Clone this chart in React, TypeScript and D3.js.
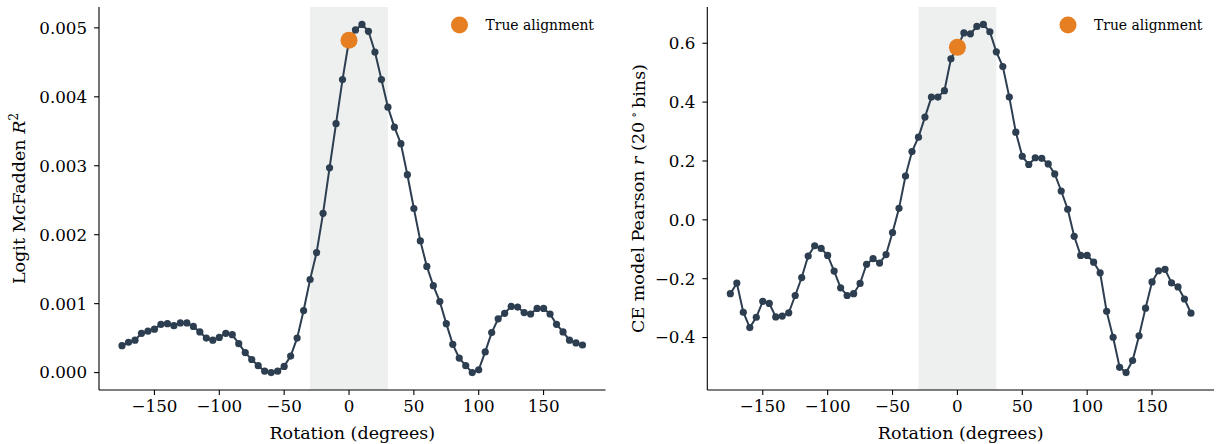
import React from "react";
import * as d3 from "d3";

// rotation grid (degrees)
const rotations = [
  -175, -170, -165, -160, -155, -150, -145, -140, -135, -130, -125, -120,
  -115, -110, -105, -100, -95, -90, -85, -80, -75, -70, -65, -60,
  -55, -50, -45, -40, -35, -30, -25, -20, -15, -10, -5, 0,
  5, 10, 15, 20, 25, 30, 35, 40, 45, 50, 55, 60,
  65, 70, 75, 80, 85, 90, 95, 100, 105, 110, 115, 120,
  125, 130, 135, 140, 145, 150, 155, 160, 165, 170, 175, 180,
];

// left panel: logit McFadden R^2
const logitR2 = [
  0.00039, 0.00044, 0.00047, 0.00057, 0.0006, 0.00063, 0.0007, 0.00071, 0.00068, 0.00072, 0.00072, 0.00067,
  0.00059, 0.0005, 0.00047, 0.00051, 0.00057, 0.00055, 0.00042, 0.00029, 0.00019, 0.0001, 0.00002, 0.0,
  0.00002, 0.00009, 0.00024, 0.0005, 0.0009, 0.00135, 0.00174, 0.00231, 0.00297, 0.00361, 0.00425, 0.00482,
  0.00497, 0.00505, 0.00495, 0.00465, 0.00425, 0.00385, 0.00356, 0.00332, 0.00287, 0.00238, 0.00191, 0.00154,
  0.00126, 0.00103, 0.00071, 0.00041, 0.00021, 0.0001, 0.0, 0.00004, 0.0003, 0.00058, 0.00078, 0.00086,
  0.00096, 0.00095, 0.00087, 0.00085, 0.00093, 0.00093, 0.00085, 0.0007, 0.00059, 0.00047, 0.00043, 0.0004,
];

// right panel: CE model Pearson r (20 deg bins)
const pearsonR = [
  -0.251, -0.215, -0.314, -0.366, -0.331, -0.277, -0.284, -0.33, -0.327, -0.316, -0.257, -0.196,
  -0.123, -0.088, -0.097, -0.121, -0.174, -0.231, -0.257, -0.251, -0.216, -0.151, -0.132, -0.147,
  -0.118, -0.043, 0.039, 0.149, 0.232, 0.281, 0.349, 0.417, 0.417, 0.439, 0.547, 0.586,
  0.635, 0.632, 0.657, 0.664, 0.639, 0.571, 0.521, 0.417, 0.298, 0.216, 0.188, 0.211,
  0.209, 0.19, 0.156, 0.098, 0.036, -0.056, -0.121, -0.121, -0.144, -0.18, -0.311, -0.399,
  -0.501, -0.519, -0.478, -0.394, -0.3, -0.211, -0.173, -0.168, -0.214, -0.228, -0.269, -0.317,
];

const xTicks = [-150, -100, -50, 0, 50, 100, 150];
const leftYTicks = [0, 0.001, 0.002, 0.003, 0.004, 0.005];
const rightYTicks = [-0.4, -0.2, 0, 0.2, 0.4, 0.6];
const shadeRange = [-30, 30];
const trueRotation = 0;
const legendLabel = "True alignment";

const FONT = "DejaVu Serif";
const LINE = "#2c3e50";
const ORANGE = "#e67e22";
const SHADE = "#eef0ef";

const pad = (ext) => {
  const m = (ext[1] - ext[0]) * 0.05;
  return [ext[0] - m, ext[1] + m];
};

function Panel({ x0, x1, values, yTicks, fmt, yLabel, yLabelX }) {
  const top = 7;
  const bottom = 390;
  const x = d3.scaleLinear().domain(pad(d3.extent(rotations))).range([x0, x1]);
  const y = d3.scaleLinear().domain(pad(d3.extent(values))).range([bottom, top]);
  const pts = rotations.map((r, i) => [r, values[i]]);
  const line = d3.line().x((d) => x(d[0])).y((d) => y(d[1]));
  const trueVal = values[rotations.indexOf(trueRotation)];
  const tickLen = 4.9;

  return (
    <g fontFamily={FONT}>
      <rect x={x(shadeRange[0])} y={top} width={x(shadeRange[1]) - x(shadeRange[0])} height={bottom - top} fill={SHADE} />
      <path d={line(pts)} fill="none" stroke={LINE} strokeWidth={2} />
      {pts.map((d, i) => (
        <circle key={i} cx={x(d[0])} cy={y(d[1])} r={3.6} fill={LINE} />
      ))}
      <circle cx={x(trueRotation)} cy={y(trueVal)} r={8.5} fill={ORANGE} />

      {/* spines */}
      <line x1={x0} x2={x0} y1={top} y2={bottom} stroke="#000" strokeWidth={1.1} />
      <line x1={x0} x2={x1} y1={bottom} y2={bottom} stroke="#000" strokeWidth={1.1} />

      {xTicks.map((t) => (
        <g key={t} transform={`translate(${x(t)},${bottom})`}>
          <line y2={tickLen} stroke="#000" strokeWidth={1.1} />
          <text y={tickLen + 4.9} dy="0.76em" textAnchor="middle" fontSize={16.7} fill="#000">
            {d3.format("d")(t)}
          </text>
        </g>
      ))}
      {yTicks.map((t) => (
        <g key={t} transform={`translate(${x0},${y(t)})`}>
          <line x2={-tickLen} stroke="#000" strokeWidth={1.1} />
          <text x={-tickLen - 7} dy="0.35em" textAnchor="end" fontSize={16.7} fill="#000">
            {d3.format(fmt)(t)}
          </text>
        </g>
      ))}

      <text x={(x0 + x1) / 2} y={439} textAnchor="middle" fontSize={17.5} fill="#000">
        Rotation (degrees)
      </text>
      <text transform={`translate(${yLabelX},${(top + bottom) / 2}) rotate(-90)`} dy="0.35em" textAnchor="middle" fontSize={17.5} fill="#000">
        {yLabel}
      </text>

      {/* legend */}
      <circle cx={x1 - 146} cy={25} r={8.5} fill={ORANGE} />
      <text x={x1 - 120} y={25} dy="0.35em" fontSize={13.9} fill="#000">
        {legendLabel}
      </text>
    </g>
  );
}

export default function App() {
  return (
    <svg width={1222} height={444} style={{ position: "absolute", left: 0, top: 0, background: "#fff" }}>
      <Panel
        x0={99}
        x1={605.5}
        values={logitR2}
        yTicks={leftYTicks}
        fmt=".3f"
        yLabelX={18.5}
        yLabel={
          <>
            Logit McFadden <tspan fontStyle="italic">R</tspan>
            <tspan fontSize={12} dy="-0.55em">2</tspan>
          </>
        }
      />
      <Panel
        x0={707.3}
        x1={1214}
        values={pearsonR}
        yTicks={rightYTicks}
        fmt=".1f"
        yLabelX={638}
        yLabel={
          <>
            CE model Pearson <tspan fontStyle="italic">r</tspan> (20
            <tspan fontSize={12} dy="-0.55em" dx="4">∘</tspan>
            <tspan dy="0.4em" dx="4">bins)</tspan>
          </>
        }
      />
    </svg>
  );
}
